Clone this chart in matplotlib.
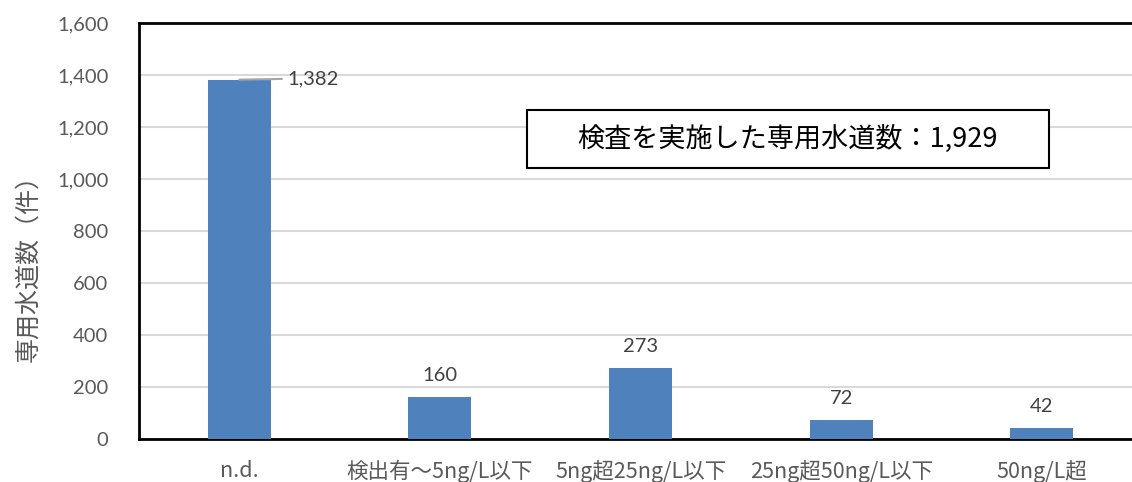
import matplotlib.pyplot as plt
from matplotlib.patches import Rectangle

plt.rcParams['font.family'] = ['Lato', 'Noto Sans CJK JP', 'DejaVu Sans']

categories = ['n.d.', '検出有～5ng/L以下', '5ng超25ng/L以下', '25ng超50ng/L以下', '50ng/L超']
counts = [1382, 160, 273, 72, 42]
total = 1929

fig = plt.figure(figsize=(11.32, 4.82), dpi=100)
W, H = 1132, 482
ax = fig.add_axes([139 / W, 1 - 439 / H, (1142 - 139) / W, (439 - 23) / H])

x = list(range(len(categories)))
ax.bar(x, counts, width=0.315, color='#4f81bd', zorder=3)

ax.set_xlim(-0.5, 4.5)
ax.set_ylim(0, 1600)
ax.set_yticks(range(0, 1601, 200))
ax.set_yticklabels([f'{v:,}' for v in range(0, 1601, 200)])
ax.yaxis.grid(True, color='#d9d9d9', linewidth=1.5, zorder=0)
ax.set_xticks(x)
ax.set_xticklabels(categories, family=['Noto Sans CJK JP', 'DejaVu Sans'], fontsize=15.5)
ax.tick_params(axis='both', length=0, labelcolor='#595959')
ax.tick_params(axis='y', labelsize=14.5, pad=22)
ax.tick_params(axis='x', pad=15)
for s in ['left', 'bottom', 'top']:
    ax.spines[s].set_linewidth(2)
    ax.spines[s].set_color('black')
ax.spines['right'].set_visible(False)

fig.text(28 / W, 1 - 262 / H, '専用水道数（件）', rotation=90, ha='center', va='center',
         family=['Noto Sans CJK JP'], fontsize=18, color='#595959')

# data labels
for i, v in enumerate(counts):
    if i == 0:
        ax.annotate(f'{v:,}', xy=(i, v), xytext=(i + 0.24, v + 5),
                    fontsize=14.5, color='#404040', va='center', ha='left',
                    arrowprops=dict(arrowstyle='-', color='#a6a6a6', lw=1.5,
                                    shrinkA=2, shrinkB=0))
    else:
        ax.text(i, v + 50, f'{v:,}', ha='center', va='bottom', fontsize=14.5,
                color='#404040')

# note box
ax.add_patch(Rectangle((1.434, 1042), 2.602, 223, facecolor='white',
                       edgecolor='black', linewidth=1.5, zorder=4))
ax.text(2.735, 1154, f'検査を実施した専用水道数：{total:,}', ha='center', va='center',
        fontsize=19.5, family=['Noto Sans CJK JP'], color='black', zorder=5)

fig.savefig('out.png', dpi=100)
